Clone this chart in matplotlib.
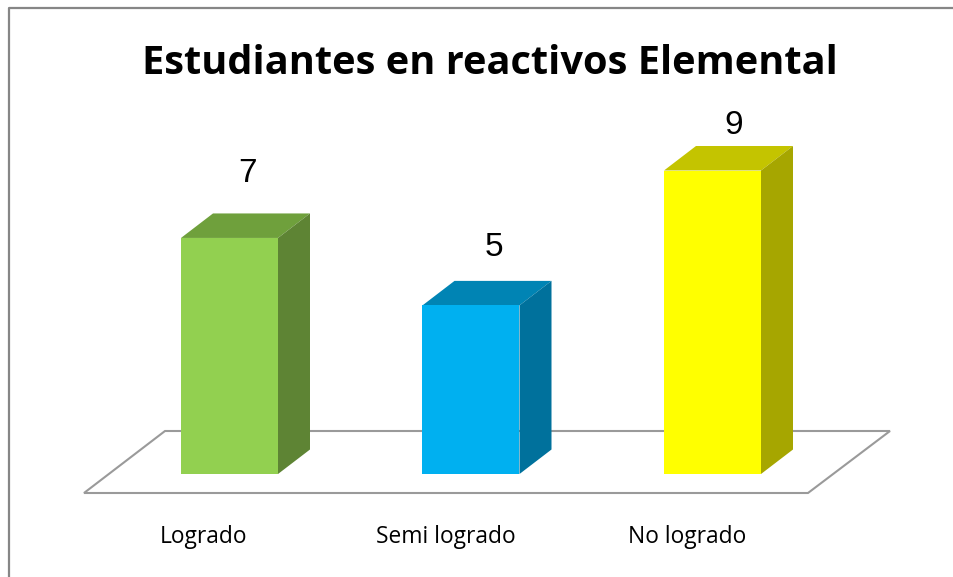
import matplotlib
matplotlib.use('Agg')
import matplotlib.pyplot as plt
from matplotlib.patches import Polygon

categories = ['Logrado', 'Semi logrado', 'No logrado']
values = [7, 5, 9]
front_colors = ['#92D050', '#00B0F0', '#FFFF00']
top_colors = ['#6FA03C', '#0084B4', '#C4C400']
side_colors = ['#5E8434', '#00719C', '#A6A600']

W, H = 954, 577
fig = plt.figure(figsize=(W / 100, H / 100), dpi=100)
ax = fig.add_axes([0, 0, 1, 1])
ax.set_xlim(0, W)
ax.set_ylim(H, 0)
ax.axis('off')

# outer frame, open at the bottom and cut by the image edge
ax.plot([9, 9, 953], [577, 8, 8], color='#868686', lw=1.6)

ax.text(489.5, 74, 'Estudiantes en reactivos Elemental', ha='center', va='baseline',
        fontsize=28.6, fontweight='bold', family='Open Sans', color='black')

# floor
ax.add_patch(Polygon([(84, 493), (165, 431), (890, 431), (808, 493)], closed=True,
                     fc='white', ec='#9A9A9A', lw=1.5, zorder=1))

base_y = 474
unit = (474 - 170.5) / 9  # pixels per student
lefts = [181, 422.5, 664]
bar_w = 97
dx, dy = 32, 24.5
# value labels don't sit at a fixed spot above the bars
label_dx = [67, 71.5, 70]
label_dy = [55.5, 49, 36.5]

for i, (left, val, name) in enumerate(zip(lefts, values, categories)):
    top = base_y - val * unit
    right = left + bar_w
    ax.add_patch(Polygon([(left, top), (right, top), (right + dx, top - dy), (left + dx, top - dy)],
                         closed=True, fc=top_colors[i], ec='none', zorder=2))
    ax.add_patch(Polygon([(right, top), (right + dx, top - dy), (right + dx, base_y - dy), (right, base_y)],
                         closed=True, fc=side_colors[i], ec='none', zorder=2))
    ax.add_patch(Polygon([(left, top), (right, top), (right, base_y), (left, base_y)],
                         closed=True, fc=front_colors[i], ec='none', zorder=3))
    ax.text(left + label_dx[i], top - label_dy[i], str(val), ha='center', va='baseline',
            fontsize=24, family='Liberation Sans', color='black')
    ax.text(left + 23, 543, name, ha='center', va='baseline',
            fontsize=16.4, family='Open Sans', color='black')

fig.savefig('out.png', dpi=100)
